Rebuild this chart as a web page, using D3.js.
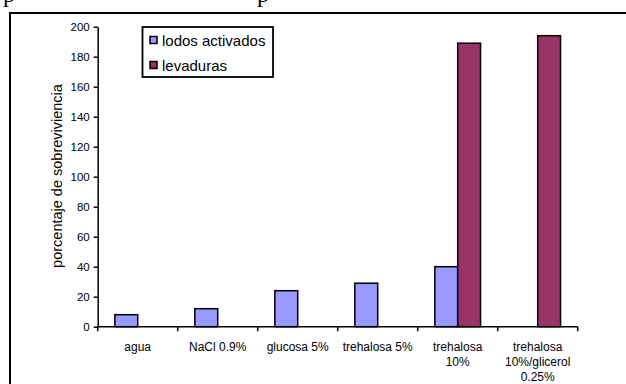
<!DOCTYPE html>
<html>
<head>
<meta charset="utf-8">
<script src="https://cdn.jsdelivr.net/npm/d3@7"></script>
<style>
  html, body { margin: 0; padding: 0; background: #fff; }
  svg { display: block; }
</style>
</head>
<body>
<svg id="chart" width="626" height="384"></svg>
<script>
// ---- data ----
const categories = ["agua", "NaCl 0.9%", "glucosa 5%", "trehalosa 5%", "trehalosa 10%", "trehalosa 10%/glicerol 0.25%"];
const categoryLines = [["agua"], ["NaCl 0.9%"], ["glucosa 5%"], ["trehalosa 5%"], ["trehalosa", "10%"], ["trehalosa", "10%/glicerol", "0.25%"]];
const seriesNames = ["lodos activados", "levaduras"];
const lodosValues = [8, 12, 24, 29, 40, null];
const levadurasValues = [null, null, null, null, 189, 194];
const yTicks = [0, 20, 40, 60, 80, 100, 120, 140, 160, 180, 200];
const seriesColors = ["#9999FF", "#993366"];
const yTitle = "porcentaje de sobreviviencia";

const svg = d3.select("#chart");
const font = "Arial, 'Liberation Sans', sans-serif";

// fragments of the text line above the picture (cut off in the reference too)
svg.append("text").attr("x", 3).attr("y", 2).attr("font-family", "'Liberation Serif', 'Times New Roman', serif")
  .attr("font-size", 24).text("p");
svg.append("text").attr("x", 257).attr("y", 2).attr("font-family", "'Liberation Serif', 'Times New Roman', serif")
  .attr("font-size", 24).text("p");

// outer frame (only top & left visible)
svg.append("rect").attr("x", 10).attr("y", 13).attr("width", 700).attr("height", 500)
  .attr("fill", "none").attr("stroke", "#000").attr("stroke-width", 2);

const x0 = 97.7, x1 = 577.7, yBottom = 326.7, yTop = 26.7;
const x = d3.scaleBand().domain(categories).range([x0, x1]).paddingInner(0).paddingOuter(0);
const xs = d3.scaleBand().domain(seriesNames).range([0, x.bandwidth()]).paddingInner(0).paddingOuter(0.75);
const y = d3.scaleLinear().domain([0, 200]).range([yBottom, yTop]);

// bars
const data = [];
categories.forEach((c, i) => {
  [lodosValues, levadurasValues].forEach((arr, s) => {
    if (arr[i] != null) data.push({ c, s: seriesNames[s], v: arr[i], color: seriesColors[s] });
  });
});
svg.append("g").selectAll("rect").data(data).join("rect")
  .attr("x", d => x(d.c) + xs(d.s))
  .attr("y", d => y(d.v))
  .attr("width", xs.bandwidth())
  .attr("height", d => y(0) - y(d.v))
  .attr("fill", d => d.color)
  .attr("stroke", "#000").attr("stroke-width", 1.5);

// y axis
const yAxis = d3.axisLeft(y).tickValues(yTicks).tickSize(4).tickPadding(4).tickSizeOuter(0);
const gy = svg.append("g").attr("transform", `translate(${x0},0)`).call(yAxis);
gy.select(".domain").attr("stroke-width", 1.5);
gy.selectAll(".tick line").attr("stroke-width", 1.5);
gy.selectAll(".tick text").attr("font-family", font).attr("font-size", 11.5).attr("fill", "#000");

// x axis: ticks at band boundaries
const gx = svg.append("g").attr("transform", `translate(0,${yBottom})`);
gx.append("line").attr("x1", x0).attr("x2", x1).attr("y1", 0).attr("y2", 0)
  .attr("stroke", "#000").attr("stroke-width", 1.5);
const boundaries = categories.map(c => x(c)).concat([x(categories[categories.length - 1]) + x.bandwidth()]);
gx.selectAll("line.tk").data(boundaries).join("line").attr("class", "tk")
  .attr("x1", d => d).attr("x2", d => d).attr("y1", 0).attr("y2", 4.5)
  .attr("stroke", "#000").attr("stroke-width", 1.5);
categories.forEach((c, i) => {
  const t = gx.append("text").attr("text-anchor", "middle")
    .attr("font-family", font).attr("font-size", 12).attr("fill", "#000");
  categoryLines[i].forEach((line, j) => {
    t.append("tspan").attr("x", x(c) + x.bandwidth() / 2).attr("y", 24 + j * 15.3).text(line);
  });
});

// y title
svg.append("text").attr("transform", "translate(62,176) rotate(-90)")
  .attr("text-anchor", "middle").attr("font-family", font).attr("font-size", 14.5)
  .attr("fill", "#000").text(yTitle);

// legend
const lg = svg.append("g");
lg.append("rect").attr("x", 142.5).attr("y", 27).attr("width", 130.5).attr("height", 50)
  .attr("fill", "#fff").attr("stroke", "#000").attr("stroke-width", 1.8);
seriesNames.forEach((n, i) => {
  const cy = 40.5 + i * 25;
  lg.append("rect").attr("x", 150).attr("y", cy - 4).attr("width", 7).attr("height", 7)
    .attr("fill", seriesColors[i]).attr("stroke", "#000").attr("stroke-width", 1.5);
  lg.append("text").attr("x", 162).attr("y", cy + 5).attr("font-family", font)
    .attr("font-size", 15).attr("fill", "#000").text(n);
});
</script>
</body>
</html>
